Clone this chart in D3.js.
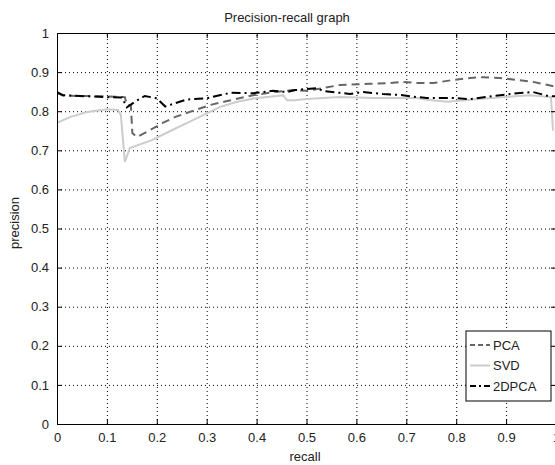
<!DOCTYPE html>
<html>
<head>
<meta charset="utf-8">
<script src="https://cdn.jsdelivr.net/npm/d3@7"></script>
<style>
  body { margin: 0; background: #fff; }
  svg { display: block; font-family: 'Liberation Sans', Arial, sans-serif; }
</style>
</head>
<body>
<div id="chart"></div>
<script>
// Precision-recall graph

var xTicks = [0, 0.1, 0.2, 0.3, 0.4, 0.5, 0.6, 0.7, 0.8, 0.9, 1];
var yTicks = [0, 0.1, 0.2, 0.3, 0.4, 0.5, 0.6, 0.7, 0.8, 0.9, 1];
var seriesNames = ['PCA', 'SVD', '2DPCA'];

var pcaRecall    = [0, 0.012, 0.046, 0.096, 0.136, 0.14, 0.148, 0.151, 0.16, 0.18, 0.212, 0.236, 0.277, 0.307, 0.341, 0.393, 0.441, 0.473, 0.501, 0.567, 0.627, 0.667, 0.693, 0.721, 0.754, 0.794, 0.828, 0.854, 0.888, 0.922, 0.954, 0.984, 1.0];
var pcaPrecision = [0.847, 0.84, 0.839, 0.838, 0.836, 0.816, 0.815, 0.744, 0.734, 0.747, 0.77, 0.785, 0.803, 0.816, 0.826, 0.841, 0.85, 0.854, 0.852, 0.867, 0.87, 0.872, 0.875, 0.872, 0.872, 0.88, 0.885, 0.887, 0.885, 0.88, 0.875, 0.867, 0.862];

var svdRecall    = [0, 0.026, 0.06, 0.1, 0.122, 0.128, 0.136, 0.146, 0.19, 0.228, 0.261, 0.293, 0.327, 0.361, 0.401, 0.441, 0.453, 0.461, 0.475, 0.501, 0.567, 0.633, 0.721, 0.741, 0.782, 0.828, 0.894, 0.948, 0.99, 0.994];
var svdPrecision = [0.77, 0.785, 0.798, 0.805, 0.803, 0.79, 0.67, 0.706, 0.726, 0.75, 0.77, 0.79, 0.811, 0.824, 0.834, 0.839, 0.841, 0.828, 0.828, 0.831, 0.836, 0.834, 0.834, 0.829, 0.824, 0.829, 0.836, 0.841, 0.836, 0.75];

var tdRecall     = [0, 0.012, 0.046, 0.096, 0.13, 0.14, 0.156, 0.176, 0.2, 0.217, 0.236, 0.26, 0.3, 0.347, 0.393, 0.433, 0.461, 0.477, 0.521, 0.533, 0.567, 0.587, 0.613, 0.653, 0.693, 0.721, 0.741, 0.788, 0.828, 0.874, 0.922, 0.954, 0.984, 1.0];
var tdPrecision  = [0.849, 0.841, 0.839, 0.836, 0.835, 0.81, 0.824, 0.839, 0.833, 0.812, 0.82, 0.83, 0.833, 0.847, 0.846, 0.852, 0.849, 0.854, 0.859, 0.852, 0.847, 0.844, 0.849, 0.844, 0.841, 0.836, 0.834, 0.834, 0.831, 0.839, 0.846, 0.849, 0.839, 0.838];

var svgWidth = 555;
var svgHeight = 465;
var plotLeft = 57, plotRight = 556, plotTop = 33, plotBottom = 424;

var svg = d3.select('#chart').append('svg')
    .attr('width', svgWidth)
    .attr('height', svgHeight);

var xScale = d3.scaleLinear().domain([0, 1]).range([plotLeft, plotRight]);
var yScale = d3.scaleLinear().domain([0, 1]).range([plotBottom, plotTop]);

var fmt = d => d === 0 || d === 1 ? d : d3.format('.1f')(d);

// Grid
svg.append('g')
    .attr('transform', 'translate(0,' + plotBottom + ')')
    .call(d3.axisBottom(xScale).tickValues(xTicks).tickSize(-(plotBottom - plotTop)).tickFormat(''))
    .call(g => g.select('.domain').remove())
    .selectAll('line')
        .attr('stroke', '#000')
        .attr('stroke-dasharray', '1,3');

svg.append('g')
    .attr('transform', 'translate(' + plotLeft + ',0)')
    .call(d3.axisLeft(yScale).tickValues(yTicks).tickSize(-(plotRight - plotLeft)).tickFormat(''))
    .call(g => g.select('.domain').remove())
    .selectAll('line')
        .attr('stroke', '#000')
        .attr('stroke-dasharray', '1,3');

// Lines
svg.append('clipPath').attr('id', 'plot-clip')
    .append('rect')
    .attr('x', plotLeft).attr('y', plotTop)
    .attr('width', plotRight - plotLeft).attr('height', plotBottom - plotTop);

var line = d3.line()
    .x(d => xScale(d[0]))
    .y(d => yScale(d[1]));

var series = [
    { name: seriesNames[0], pts: d3.zip(pcaRecall, pcaPrecision), color: '#666', dash: '8,5' },
    { name: seriesNames[1], pts: d3.zip(svdRecall, svdPrecision), color: '#ccc', dash: null },
    { name: seriesNames[2], pts: d3.zip(tdRecall, tdPrecision), color: '#000', dash: '9,4,2,4' }
];

svg.append('g')
    .attr('clip-path', 'url(#plot-clip)')
    .selectAll('path')
    .data(series)
    .enter().append('path')
        .attr('d', d => line(d.pts))
        .attr('fill', 'none')
        .attr('stroke', d => d.color)
        .attr('stroke-width', 2)
        .attr('stroke-dasharray', d => d.dash);

// Axes with inward ticks
svg.append('g')
    .attr('transform', 'translate(0,' + plotBottom + ')')
    .call(d3.axisBottom(xScale).tickValues(xTicks).tickSizeInner(-5).tickSizeOuter(0).tickPadding(9).tickFormat(fmt));

svg.append('g')
    .attr('transform', 'translate(0,' + plotTop + ')')
    .call(d3.axisTop(xScale).tickValues(xTicks).tickSizeInner(-5).tickSizeOuter(0).tickFormat(''));

svg.append('g')
    .attr('transform', 'translate(' + plotLeft + ',0)')
    .call(d3.axisLeft(yScale).tickValues(yTicks).tickSizeInner(-5).tickSizeOuter(0).tickPadding(8).tickFormat(fmt));

svg.append('g')
    .attr('transform', 'translate(' + plotRight + ',0)')
    .call(d3.axisRight(yScale).tickValues(yTicks).tickSizeInner(-5).tickSizeOuter(0).tickFormat(''));

svg.selectAll('.domain').attr('stroke', '#000');
svg.selectAll('.tick text')
    .style('font-size', '13px')
    .attr('fill', '#222');

// Legend
var legend = svg.append('g').attr('transform', 'translate(466,331)');
legend.append('rect')
    .attr('width', 85).attr('height', 70)
    .attr('fill', '#fff').attr('stroke', '#000');

legend.selectAll('line')
    .data(series)
    .enter().append('line')
        .attr('x1', 4).attr('x2', 24)
        .attr('y1', (d, i) => 14 + i * 20.5)
        .attr('y2', (d, i) => 14 + i * 20.5)
        .attr('stroke', d => d.color)
        .attr('stroke-width', 2)
        .attr('stroke-dasharray', d => d.dash ? (d.name === 'PCA' ? '5,3' : '6,3,2,3') : null);

legend.selectAll('text')
    .data(series)
    .enter().append('text')
        .attr('x', 27)
        .attr('y', (d, i) => 14 + i * 20.5)
        .attr('dy', '0.35em')
        .style('font-size', '13px')
        .attr('fill', '#222')
        .text(d => d.name);

// Labels
svg.append('text')
    .attr('x', 287).attr('y', 22)
    .attr('text-anchor', 'middle')
    .style('font-size', '13px')
    .attr('fill', '#222')
    .text('Precision-recall graph');

svg.append('text')
    .attr('x', 305).attr('y', 461)
    .attr('text-anchor', 'middle')
    .style('font-size', '13px')
    .attr('fill', '#222')
    .text('recall');

svg.append('text')
    .attr('transform', 'translate(19,223) rotate(-90)')
    .attr('text-anchor', 'middle')
    .style('font-size', '13px')
    .attr('fill', '#222')
    .text('precision');
</script>
</body>
</html>
